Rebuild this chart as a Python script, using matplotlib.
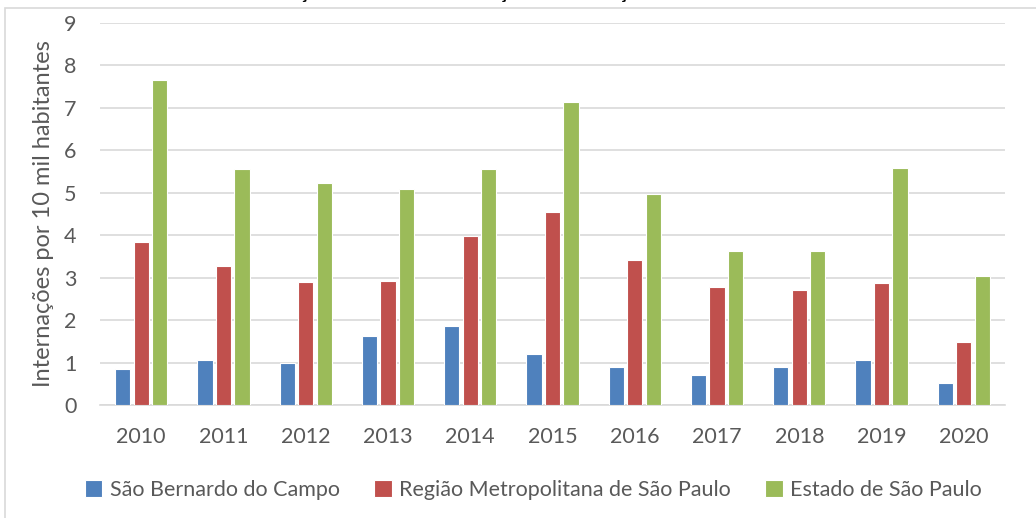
import numpy as np
import matplotlib.pyplot as plt
from matplotlib.patches import Rectangle

# data
anos = ['2010', '2011', '2012', '2013', '2014', '2015', '2016', '2017', '2018', '2019', '2020']
sao_bernardo = [0.85, 1.05, 1.00, 1.62, 1.87, 1.21, 0.90, 0.71, 0.90, 1.05, 0.52]
rmsp = [3.83, 3.27, 2.90, 2.92, 3.97, 4.55, 3.42, 2.78, 2.71, 2.87, 1.48]
estado_sp = [7.65, 5.56, 5.24, 5.10, 5.56, 7.14, 4.97, 3.64, 3.62, 5.59, 3.03]

series_nomes = ['São Bernardo do Campo', 'Região Metropolitana de São Paulo', 'Estado de São Paulo']
cores = ['#4F81BD', '#C0504D', '#9BBB59']
txt = '#595959'

plt.rcParams['font.family'] = ['Lato', 'DejaVu Sans']

fig = plt.figure(figsize=(10.36, 5.18), dpi=100)

# chart border (only left/top visible in the reference)
fig.add_artist(Rectangle((5/1036, -0.05), 1.1, 1 - 8/518 + 0.05, transform=fig.transFigure,
                         fill=False, edgecolor='#D9D9D9', lw=1.2))

# title sits mostly above the crop, only its lowest pixels show
fig.text(0.0, 1 + 1/518, 'Gráfico 11 – Taxa anual de internações associadas a doenças de veiculação hídrica',
         fontsize=14, fontweight='bold', color='black', va='baseline', ha='left')

ax = fig.add_axes([100/1036, 1 - 405/518, 905/1036, (405 - 23)/518])

x = np.arange(len(anos))
largura = 0.185
passo = 0.225
for i, (vals, nome, cor) in enumerate(zip([sao_bernardo, rmsp, estado_sp], series_nomes, cores)):
    ax.bar(x + (i - 1) * passo, vals, largura, color=cor, edgecolor='white', linewidth=0.8,
           label=nome, zorder=3)

ax.set_xlim(-0.5, len(anos) - 0.5)
ax.set_ylim(0, 9)
ax.set_yticks(range(0, 10))
ax.set_xticks(x)
ax.set_xticklabels(anos)
ax.grid(axis='y', color='#D9D9D9', lw=1.2, zorder=0)
for s in ['top', 'right', 'left']:
    ax.spines[s].set_visible(False)
ax.spines['bottom'].set_color('#D9D9D9')
ax.spines['bottom'].set_linewidth(1.2)
ax.tick_params(axis='both', length=0, labelsize=15.5, colors=txt)
ax.tick_params(axis='x', pad=16)
ax.tick_params(axis='y', pad=17)
ax.set_ylabel('Internações por 10 mil habitantes', fontsize=17, color=txt)
ax.yaxis.set_label_coords(-56/905, 0.5)
ax.yaxis.label.set_verticalalignment('center')

leg = fig.legend(loc='center', bbox_to_anchor=(0.515, 1 - 490/518), ncol=3, frameon=False,
                 fontsize=15.5, handlelength=0.8, handleheight=0.8, handletextpad=0.35,
                 columnspacing=1.6)
for t in leg.get_texts():
    t.set_color(txt)

fig.savefig('out.png', dpi=100)
